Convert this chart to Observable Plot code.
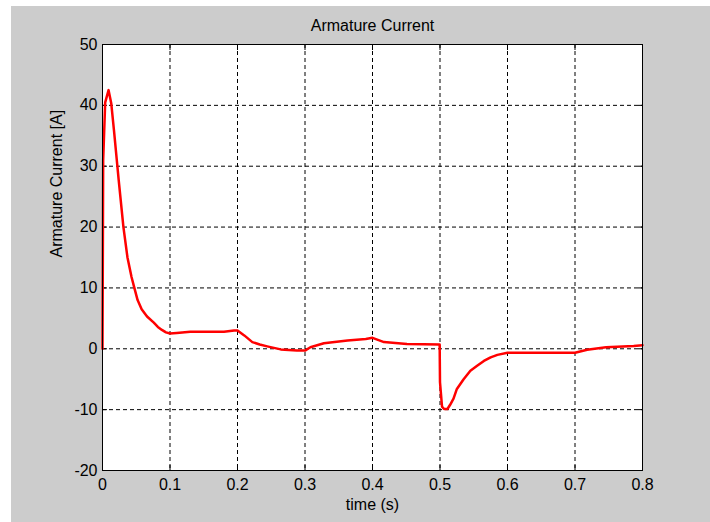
<!DOCTYPE html>
<html>
<head>
<meta charset="utf-8">
<script src="https://cdn.jsdelivr.net/npm/d3@7"></script>
<script src="https://cdn.jsdelivr.net/npm/@observablehq/plot@0.6"></script>
<style>
  html, body { margin: 0; padding: 0; background: #ffffff; }
  #fig { position: absolute; left: 11px; top: 6px; width: 699px; height: 516px; background: #cccccc; }
  #fig svg { display: block; }
</style>
</head>
<body>
<div id="fig"></div>
<script>
// Armature current of the motor over the simulation run
const time = [0, 0.001, 0.004, 0.009, 0.013, 0.017, 0.024, 0.031, 0.037, 0.043, 0.047, 0.052,
  0.058, 0.066, 0.076, 0.082, 0.088, 0.094,
  0.1, 0.11, 0.13, 0.18, 0.195, 0.2, 0.21, 0.222, 0.233, 0.244, 0.264, 0.288, 0.3, 0.308, 0.328, 0.363,
  0.39, 0.4, 0.417, 0.451, 0.4995, 0.5, 0.503, 0.506, 0.511, 0.515, 0.52, 0.525, 0.535, 0.545,
  0.555, 0.565, 0.575, 0.585, 0.6, 0.7, 0.718, 0.746, 0.787, 0.8];
const current = [0, 31, 40.5, 42.5, 40.3, 35.9, 27.7, 20.0, 15.0, 11.8, 10.1, 8.0,
  6.5, 5.3, 4.3, 3.6, 3.1, 2.7,
  2.5, 2.6, 2.8, 2.8, 3.0, 3.0, 2.2, 1.1, 0.7, 0.4, -0.1, -0.3, -0.3, 0.25, 0.9, 1.35,
  1.6, 1.8, 1.1, 0.8, 0.7, -5.5, -9.5, -9.9, -9.9, -9.2, -8.2, -6.6, -5.0, -3.6,
  -2.8, -2.0, -1.4, -1.0, -0.65, -0.65, -0.15, 0.25, 0.45, 0.6];

const xTicks = [0, 0.1, 0.2, 0.3, 0.4, 0.5, 0.6, 0.7, 0.8];
const yTicks = [-20, -10, 0, 10, 20, 30, 40, 50];
const xTickLabels = ["0", "0.1", "0.2", "0.3", "0.4", "0.5", "0.6", "0.7", "0.8"];
const yTickLabels = ["-20", "-10", "0", "10", "20", "30", "40", "50"];

const titleText = "Armature Current";
const xLabel = "time (s)";
const yLabel = "Armature Current [A]";

const data = time.map((t, i) => ({t, a: current[i]}));
const font = "'Liberation Sans', Arial, sans-serif";

const chart = Plot.plot({
  width: 699,
  height: 516,
  marginLeft: 91,
  marginRight: 68,
  marginTop: 38,
  marginBottom: 52,
  style: {background: "transparent", fontFamily: font, fontSize: "16px", color: "#000"},
  x: {domain: [0, 0.8], ticks: xTicks},
  y: {domain: [-20, 50], ticks: yTicks},
  marks: [
    Plot.frame({fill: "white"}),
    Plot.gridX(xTicks, {stroke: "black", strokeOpacity: 1, strokeDasharray: "4,3"}),
    Plot.gridY(yTicks, {stroke: "black", strokeOpacity: 1, strokeDasharray: "4,3"}),
    // inward ticks on all four sides
    Plot.axisX(xTicks, {anchor: "bottom", text: null, label: null, tickSize: 5, dy: -5}),
    Plot.axisX(xTicks, {anchor: "top", text: null, label: null, tickSize: 5, dy: 5}),
    Plot.axisY(yTicks, {anchor: "left", text: null, label: null, tickSize: 5, dx: 5}),
    Plot.axisY(yTicks, {anchor: "right", text: null, label: null, tickSize: 5, dx: -5}),
    // tick labels
    Plot.axisX(xTicks, {anchor: "bottom", tickSize: 0, tickPadding: 8, label: null,
      tickFormat: (d, i) => xTickLabels[i], fontSize: 16}),
    Plot.axisY(yTicks, {anchor: "left", tickSize: 0, tickPadding: 5, label: null,
      tickFormat: (d, i) => yTickLabels[i], fontSize: 16}),
    Plot.line(data, {x: "t", y: "a", stroke: "#ff0000", strokeWidth: 2.5}),
    Plot.frame({stroke: "black", strokeWidth: 1}),
    // title and axis labels
    Plot.text([titleText], {frameAnchor: "top", dy: -19, lineAnchor: "middle", fontSize: 16}),
    Plot.text([xLabel], {frameAnchor: "bottom", dy: 34, lineAnchor: "middle", fontSize: 16}),
    Plot.text([yLabel], {frameAnchor: "left", dx: -46, rotate: -90, lineAnchor: "middle", fontSize: 16})
  ]
});

document.getElementById("fig").appendChild(chart);
</script>
</body>
</html>
